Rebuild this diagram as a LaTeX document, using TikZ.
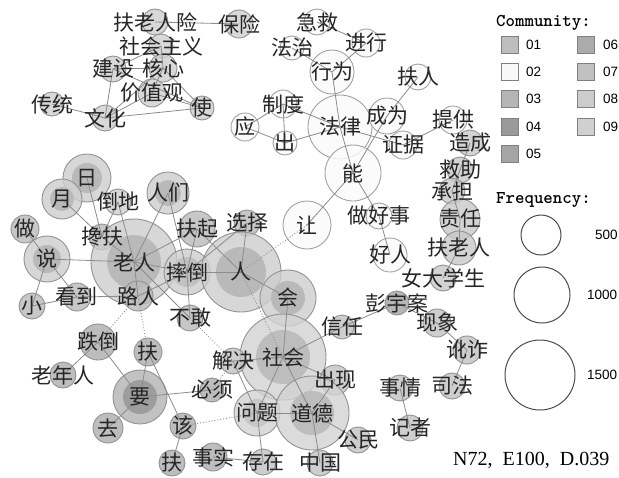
\documentclass[tikz,border=0pt]{standalone}
\usepackage{fontspec}
\usepackage{graphicx}
\setmainfont{Liberation Serif}
\newfontfamily\cjk{Noto Sans CJK SC}
\newfontfamily\legsans{Liberation Sans}
\definecolor{eg}{HTML}{8C8C8C}
\definecolor{bdg}{HTML}{939393}
\definecolor{bdw}{HTML}{A2A2A2}
\definecolor{cA}{HTML}{CFCFCF}
\definecolor{cW}{HTML}{FBFBFB}
\definecolor{cO}{HTML}{CDCDCD}
\definecolor{cOi}{HTML}{B9B9B9}
\definecolor{cS}{HTML}{D2D2D2}
\definecolor{cSi}{HTML}{BDBDBD}
\definecolor{cY}{HTML}{B3B3B3}
\definecolor{cYi}{HTML}{9D9D9D}
\definecolor{cYs}{HTML}{ADADAD}
\definecolor{cP}{HTML}{A4A4A4}
\definecolor{cG}{HTML}{C2C2C2}
\definecolor{cR}{HTML}{C8C8C8}
\definecolor{l01}{HTML}{BDBDBD}
\definecolor{l02}{HTML}{F8F8F8}
\definecolor{l03}{HTML}{B5B5B5}
\definecolor{l04}{HTML}{9A9A9A}
\definecolor{l05}{HTML}{A5A5A5}
\definecolor{l06}{HTML}{ABABAB}
\definecolor{l07}{HTML}{C0C0C0}
\definecolor{l08}{HTML}{CCCCCC}
\definecolor{l09}{HTML}{D0D0D0}
\begin{document}
\begin{tikzpicture}[x=1pt,y=-1pt,
  nd/.style={circle, inner sep=0pt, line width=0.9pt, draw=bdg, fill opacity=0.8, minimum size=#1},
  wn/.style={nd=#1, draw=bdw, fill=cW},
  ed/.style={draw=eg, line width=0.8pt},
  dt/.style={draw=eg, line width=0.9pt, dotted},
  lb/.style={font=\cjk\fontsize{21}{21}\selectfont, inner sep=0pt, text=black!85},
  sq/.style={draw=black!50, line width=0.8pt, minimum size=17pt, inner sep=0pt},
  lgt/.style={font=\legsans\fontsize{13.5}{13.5}\selectfont, anchor=west, inner sep=0pt},
  fq/.style={circle, draw=black!70, line width=1pt, inner sep=0pt, minimum size=#1}]
\useasboundingbox (0,0) rectangle (619,477);
\fill[white] (0,0) rectangle (619,477);

% ---------- circles ----------
% culture group
\node[nd=26pt, fill=cA] (fxrx) at (155,22) {};
\node[nd=28pt, fill=cA] (baoxian) at (239,24) {};
\node[nd=24pt, fill=cA] (shzy) at (161,46) {};
\node[nd=26pt, fill=cA] (jianshe) at (113,69) {};
\node[nd=28pt, fill=cA] (hexin) at (163,68) {};
\node[nd=28pt, fill=cA] (jzg) at (152,93) {};
\node[nd=24pt, fill=cA] (shi) at (202,108) {};
\node[nd=24pt, fill=cA] (chuantong) at (52,104) {};
\node[nd=26pt, fill=cA] (wenhua) at (105,118) {};
% law group (white)
\node[wn=26pt] (jijiu) at (317,22) {};
\node[wn=28pt] (jinxing) at (366,43) {};
\node[wn=24pt] (fazhi) at (292,48) {};
\node[wn=44pt] (xingwei) at (332,72) {};
\node[wn=26pt] (furen) at (418,77) {};
\node[wn=28pt] (zhidu) at (283,104) {};
\node[wn=64pt] (falv) at (340,127) {};
\node[wn=36pt] (chengwei) at (387,116) {};
\node[wn=28pt] (tigong) at (453,120) {};
\node[wn=28pt] (ying) at (245,127) {};
\node[wn=24pt] (chu) at (285,143) {};
\node[wn=28pt] (zhengju) at (403,145) {};
\node[wn=56pt] (neng) at (353,173) {};
\node[wn=48pt] (rang) at (307,225) {};
\node[wn=26pt] (zuohaoshi) at (379,216) {};
\node[wn=34pt] (haoren) at (390,255) {};
% right group
\node[nd=26pt, fill=cR] (zaocheng) at (470,143) {};
\node[nd=26pt, fill=cR] (jiuzhu) at (460,170) {};
\node[nd=26pt, fill=cR] (chengdan) at (452,191) {};
\node[nd=40pt, fill=cR] (zeren) at (460,219) {};
\node[nd=34pt, fill=cR] (fulaoren) at (459,248) {};
\node[nd=26pt, fill=cR] (nvdxs) at (443,278) {};
% old-people group
\node[nd=48pt, fill=cO] (ri) at (87,178) {};
\fill[cOi] (ri) circle (15pt);
\node[nd=40pt, fill=cO] (yue) at (62,199) {};
\fill[cOi] (yue) circle (12pt);
\node[nd=26pt, fill=cO] (daodi) at (118,202) {};
\node[nd=42pt, fill=cO] (renmen) at (168,193) {};
\fill[cOi] (renmen) circle (13pt);
\node[nd=28pt, fill=cOi] (zuo) at (25,229) {};
\node[nd=26pt, fill=cOi] (chanfu) at (102,237) {};
\node[nd=36pt, fill=cOi] (fuqi) at (197,229) {};
\node[nd=26pt, fill=cOi] (xuanze) at (247,223) {};
\node[nd=86pt, fill=cO] (laoren) at (134,262) {};
\fill[cOi] (laoren) circle (27pt);
\node[nd=46pt, fill=cO] (shuo) at (47,259) {};
\fill[cOi] (shuo) circle (14pt);
\node[nd=46pt, fill=cO] (shuaidao) at (187,272) {};
\fill[cOi!60!cO] (shuaidao) circle (15pt);
\node[nd=80pt, fill=cO] (ren) at (241,272) {};
\fill[cOi] (ren) circle (25pt);
\node[nd=28pt, fill=cOi] (kandao) at (77,297) {};
\node[nd=26pt, fill=cOi] (xiao) at (32,306) {};
\node[nd=30pt, fill=cOi] (luren) at (138,296) {};
\node[nd=26pt, fill=cOi] (bugan) at (190,318) {};
\node[nd=56pt, fill=cO] (hui) at (288,298) {};
\fill[cOi] (hui) circle (17pt);
% society group
\node[nd=24pt, fill=cG] (xinren) at (342,327) {};
\node[nd=86pt, fill=cS] (shehui) at (283,357) {};
\fill[cSi] (shehui) circle (27pt);
\node[nd=26pt, fill=cG] (jiejue) at (233,361) {};
\node[nd=30pt, fill=cG] (chuxian) at (335,380) {};
\node[nd=46pt, fill=cS] (wenti) at (257,413) {};
\fill[cSi!50!cS] (wenti) circle (14pt);
\node[nd=74pt, fill=cS] (daode) at (312,413) {};
\fill[cSi] (daode) circle (22pt);
\node[nd=26pt, fill=cG] (gongmin) at (358,440) {};
\node[nd=26pt, fill=cG] (cunzai) at (263,462) {};
\node[nd=26pt, fill=cG] (zhongguo) at (320,463) {};
\node[nd=28pt, fill=cYs] (shishi) at (213,457) {};
% yao group
\node[nd=36pt, fill=cYs] (diedao) at (98,342) {};
\node[nd=26pt, fill=cYs] (laonianren) at (63,375) {};
\node[nd=28pt, fill=cYs] (fua) at (148,352) {};
\node[nd=54pt, fill=cY] (yao) at (140,397) {};
\fill[cYi] (yao) circle (17pt);
\node[nd=24pt, fill=cYs] (bixu) at (212,390) {};
\node[nd=30pt, fill=cYs] (qu) at (108,428) {};
\node[nd=26pt, fill=cYs] (gai) at (183,426) {};
\node[nd=26pt, fill=cYs] (fub) at (172,463) {};
% peng group
\node[nd=24pt, fill=cP] (pengyuan) at (397,303) {};
\node[nd=28pt, fill=cG] (xianxiang) at (437,323) {};
\node[nd=28pt, fill=cG] (ezha) at (467,350) {};
\node[nd=26pt, fill=cG] (sifa) at (452,386) {};
\node[nd=26pt, fill=cG] (shiqing) at (400,388) {};
\node[nd=26pt, fill=cG] (jizhe) at (410,428) {};

% ---------- edges ----------
\foreach \a/\b in {fxrx/baoxian, shzy/jianshe, shzy/hexin, jianshe/hexin, jianshe/wenhua, jianshe/shi,
  hexin/jzg, hexin/wenhua, hexin/shi, jzg/wenhua, jzg/shi, wenhua/shi, chuantong/wenhua,
  jijiu/jinxing, jinxing/xingwei, fazhi/xingwei, xingwei/falv, furen/chengwei, zhidu/ying, zhidu/chu,
  zhidu/falv, ying/chu, chu/falv, falv/zhengju, zhengju/tigong, chengwei/neng, falv/neng, neng/rang,
  neng/zuohaoshi, zuohaoshi/haoren,
  zaocheng/jiuzhu, jiuzhu/chengdan, chengdan/zeren, zeren/fulaoren, fulaoren/nvdxs,
  ri/chanfu, yue/chanfu, daodi/chanfu, daodi/laoren, chanfu/laoren, renmen/laoren, renmen/shuaidao,
  shuo/zuo, shuo/laoren, shuo/kandao, shuo/xiao, xiao/kandao, kandao/luren, laoren/luren,
  laoren/shuaidao, laoren/fuqi, luren/shuaidao, fuqi/shuaidao, fuqi/ren, xuanze/ren, xuanze/shuaidao,
  shuaidao/ren, shuaidao/bugan, ren/hui, laoren/bugan,
  hui/shehui, shehui/xinren, xinren/pengyuan, shehui/jiejue, shehui/chuxian, shehui/wenti, shehui/daode,
  jiejue/wenti, wenti/daode, wenti/cunzai, daode/chuxian, daode/gongmin, daode/zhongguo, shishi/cunzai,
  laonianren/diedao, diedao/yao, fua/yao, fua/gai, yao/bixu, yao/qu, gai/fub,
  pengyuan/xianxiang, xianxiang/ezha, ezha/sifa, shiqing/jizhe}
  \draw[ed] (\a.center) -- (\b.center);
\foreach \a/\b in {luren/diedao, luren/fua, bugan/jiejue, rang/ren, gai/wenti, bixu/jiejue, ren/shehui}
  \draw[dt] (\a.center) -- (\b.center);

% ---------- labels ----------
\foreach \n/\t in {fxrx/扶老人险, baoxian/保险, shzy/社会主义, jianshe/建设, hexin/核心, jzg/价值观, shi/使,
  chuantong/传统, wenhua/文化, jijiu/急救, jinxing/进行, fazhi/法治, xingwei/行为, furen/扶人, zhidu/制度,
  falv/法律, chengwei/成为, tigong/提供, ying/应, chu/出, zhengju/证据, neng/能, rang/让, zuohaoshi/做好事,
  haoren/好人, zaocheng/造成, jiuzhu/救助, chengdan/承担, zeren/责任, fulaoren/扶老人, nvdxs/女大学生,
  ri/日, yue/月, daodi/倒地, renmen/人们, zuo/做, chanfu/搀扶, fuqi/扶起, xuanze/选择, laoren/老人, shuo/说,
  shuaidao/摔倒, ren/人, kandao/看到, xiao/小, luren/路人, bugan/不敢, hui/会, xinren/信任, shehui/社会,
  jiejue/解决, chuxian/出现, wenti/问题, daode/道德, gongmin/公民, cunzai/存在, zhongguo/中国, shishi/事实,
  diedao/跌倒, laonianren/老年人, fua/扶, yao/要, bixu/必须, qu/去, gai/该, fub/扶, pengyuan/彭宇案,
  xianxiang/现象, ezha/讹诈, sifa/司法, shiqing/事情, jizhe/记者}
  \node[lb] at (\n) {\t};

% ---------- legend ----------
\node[anchor=base west, inner sep=0pt, font=\ttfamily\bfseries\fontsize{18}{18}\selectfont] (commtitle) at (496,26) {Community:};
\node[sq, fill=l01] (s01) at (509.5,45) {};
\node[sq, fill=l02] (s02) at (509.5,72) {};
\node[sq, fill=l03] (s03) at (509.5,99) {};
\node[sq, fill=l04] (s04) at (509.5,127) {};
\node[sq, fill=l05] (s05) at (509.5,154) {};
\node[sq, fill=l06] (s06) at (586,45) {};
\node[sq, fill=l07] (s07) at (586,72) {};
\node[sq, fill=l08] (s08) at (586,99) {};
\node[sq, fill=l09] (s09) at (586,127) {};
\node[lgt] at (526,45) {01};
\node[lgt] at (526,72) {02};
\node[lgt] at (526,99) {03};
\node[lgt] at (526,127) {04};
\node[lgt] at (526,154) {05};
\node[lgt] at (603,45) {06};
\node[lgt] at (603,72) {07};
\node[lgt] at (603,99) {08};
\node[lgt] at (603,127) {09};
\node[anchor=base west, inner sep=0pt, font=\ttfamily\bfseries\fontsize{18}{18}\selectfont] (freqtitle) at (496,203) {Frequency:};
\node[fq=40pt] (f500) at (541,235) {};
\node[fq=56pt] (f1000) at (542,295) {};
\node[fq=70pt] (f1500) at (540,375) {};
\node[lgt] at (595,235) {500};
\node[lgt] at (587,295) {1000};
\node[lgt] at (587,375) {1500};
\node[anchor=base west, inner sep=0pt, font=\fontsize{20}{20}\selectfont] (stats) at (453,465) {N72,\hspace{10pt}E100,\hspace{10pt}D.039};
\end{tikzpicture}
\end{document}
